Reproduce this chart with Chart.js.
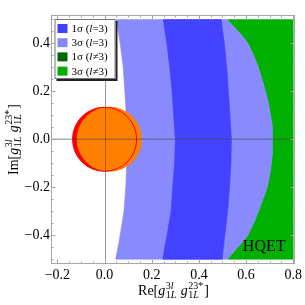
<!DOCTYPE html>
<html><head><meta charset="utf-8">
<script src="https://cdn.jsdelivr.net/npm/chart.js@4.4.1/dist/chart.umd.min.js"></script>
<style>html,body{margin:0;padding:0;background:#fff;}</style>
</head><body>
<canvas id="c" width="305" height="305"></canvas>
<script>
// ---------- data ----------
const yLevels      = [0.5, 0.45, 0.4, 0.3, 0.2, 0.1, 0.0, -0.1, -0.2, -0.3, -0.4, -0.45, -0.5];
const sigma3InnerX = [0.049, 0.058, 0.066, 0.079, 0.086, 0.092, 0.095, 0.093, 0.090, 0.082, 0.066, 0.057, 0.047];
const sigma1InnerX = [0.249, 0.256, 0.264, 0.276, 0.286, 0.293, 0.300, 0.297, 0.289, 0.282, 0.265, 0.255, 0.247];
const sigma1OuterX = [0.495, 0.501, 0.508, 0.518, 0.525, 0.532, 0.538, 0.536, 0.530, 0.522, 0.510, 0.504, 0.499];

const hqetEdgeY = [0.5, 0.475, 0.45, 0.425, 0.4, 0.35, 0.3, 0.25, 0.2, 0.15, 0.1, 0.05, 0.0,
                   -0.05, -0.1, -0.15, -0.2, -0.25, -0.3, -0.35, -0.4, -0.425, -0.45, -0.475, -0.5];
const hqetEdgeX = [0.519, 0.543, 0.566, 0.589, 0.608, 0.632, 0.652, 0.668, 0.682, 0.695, 0.704, 0.711, 0.714,
                   0.712, 0.708, 0.700, 0.690, 0.672, 0.653, 0.632, 0.608, 0.588, 0.565, 0.543, 0.521];
const hqetOuterX = 0.8;

const circleCenterX = [0.0, 0.02];   // red, orange
const circleCenterY = [0.0, 0.0];
const circleRadius  = [0.136, 0.138];

const xTicks = [-0.2, 0.0, 0.2, 0.4, 0.6, 0.8];
const yTicks = [-0.4, -0.2, 0.0, 0.2, 0.4];

const legendSigma  = ['1\u03c3', '3\u03c3', '1\u03c3', '3\u03c3'];
const legendRel    = ['=3)', '=3)', '\u22603)', '\u22603)'];
const legendColors = ['#3f3fff', '#8585ff', '#006600', '#00b000'];

const hqetText = 'HQET';

// ---------- styling ----------
const SERIF = '"Liberation Serif","Times New Roman",serif';
const COL = { dark: '#4343ff', light: '#8a8aff', green: '#00b000', red: '#ff0000', orange: '#ff8000' };

function fmtTick(v) { return (v < -1e-9 ? '\u2212' : '') + Math.abs(v).toFixed(1); }

function band(leftXs, leftYs, rightXs, rightYs) {
  const pts = [];
  for (let i = 0; i < leftYs.length; i++) pts.push({ x: leftXs[i], y: leftYs[i] });
  for (let i = rightYs.length - 1; i >= 0; i--) pts.push({ x: rightXs[i], y: rightYs[i] });
  return pts;
}
const outerY = [hqetEdgeY[0], hqetEdgeY[hqetEdgeY.length - 1]];
const outerX = [hqetOuterX, hqetOuterX];

function region(pts, color, order) {
  return { data: pts, fill: 'shape', backgroundColor: color, borderColor: color,
           borderWidth: 0.6, pointRadius: 0, tension: 0, order };
}
function radiusPx(chart, r) {
  const s = chart.scales.x;
  return Math.abs(s.getPixelForValue(r) - s.getPixelForValue(0));
}
function disk(i, fillCol, strokeCol, bw, order) {
  return { data: [{ x: circleCenterX[i], y: circleCenterY[i] }], showLine: false,
           pointRadius: ctx => radiusPx(ctx.chart, circleRadius[i]),
           pointHoverRadius: ctx => radiusPx(ctx.chart, circleRadius[i]),
           pointBackgroundColor: fillCol, pointBorderColor: strokeCol, pointBorderWidth: bw, order };
}

const datasets = [
  region(band(hqetEdgeX, hqetEdgeY, outerX, outerY), COL.green, 10),
  region(band(sigma3InnerX, yLevels, hqetEdgeX, hqetEdgeY), COL.light, 9),
  region(band(sigma1InnerX, yLevels, sigma1OuterX, yLevels), COL.dark, 8),
  disk(0, COL.red, 'rgba(0,0,0,0)', 0, 7),
  disk(1, COL.orange, 'rgba(0,0,0,0)', 0, 6),
  disk(0, 'rgba(0,0,0,0)', COL.red, 1, 5)
];

// ---------- rich text (sub/superscripts) ----------
const MAIN = 14, SCR = 10;
const titleScripts = [
  { sup: [{ t: '3' }, { t: 'l', i: true }], sub: [{ t: '1' }, { t: 'L', i: true }] },
  { sup: [{ t: '23*' }], sub: [{ t: '1' }, { t: 'L', i: true }] }
];
function titleTokens(head) {
  return [{ t: head }, { t: 'g', i: true }, titleScripts[0], { t: ' ' }, { t: 'g', i: true }, titleScripts[1], { t: ']' }];
}
function setFont(ctx, italic, size) { ctx.font = (italic ? 'italic ' : '') + size + 'px ' + SERIF; }
function runWidth(ctx, run, size) {
  let w = 0; run.forEach(p => { setFont(ctx, p.i, size); w += ctx.measureText(p.t).width; }); return w;
}
function drawRun(ctx, run, size, x, y) {
  run.forEach(p => { setFont(ctx, p.i, size); ctx.fillText(p.t, x, y); x += ctx.measureText(p.t).width; });
}
function drawRich(ctx, tokens, cx, baseline) {
  const widths = tokens.map(tk => tk.sup ? Math.max(runWidth(ctx, tk.sup, SCR), runWidth(ctx, tk.sub, SCR)) + 1.5
                                         : runWidth(ctx, [tk], MAIN));
  let x = cx - widths.reduce((a, b) => a + b, 0) / 2;
  tokens.forEach((tk, k) => {
    if (tk.sup) { drawRun(ctx, tk.sup, SCR, x + 0.5, baseline - 6); drawRun(ctx, tk.sub, SCR, x + 0.5, baseline + 2.5); }
    else drawRun(ctx, [tk], MAIN, x, baseline);
    x += widths[k];
  });
}

// ---------- decorations plugin ----------
const decor = {
  id: 'decor',
  afterDatasetsDraw(chart) {
    const { ctx, chartArea: a, scales: { x, y } } = chart;
    ctx.save();
    // zero axes
    const y0 = y.getPixelForValue(0), x0 = x.getPixelForValue(0);
    ctx.strokeStyle = 'rgba(70,70,70,0.45)'; ctx.lineWidth = 1.6;
    ctx.beginPath(); ctx.moveTo(a.left, y0); ctx.lineTo(a.right, y0); ctx.stroke();
    ctx.strokeStyle = 'rgba(70,70,70,0.55)'; ctx.lineWidth = 1;
    ctx.beginPath(); ctx.moveTo(Math.round(x0) + 0.5, a.top); ctx.lineTo(Math.round(x0) + 0.5, a.bottom); ctx.stroke();
    // frame
    const L = Math.round(a.left) - 0.5, R = Math.round(a.right) - 0.5, T = Math.round(a.top) + 0.5, B = Math.round(a.bottom) - 0.5;
    ctx.strokeStyle = '#a6a6a6'; ctx.lineWidth = 1;
    ctx.strokeRect(L, T, R - L, B - T);
    // inward ticks
    ctx.beginPath();
    for (let k = -4; k <= 16; k++) {
      const v = k * 0.05; if (v < x.min || v > x.max) continue;
      const px = Math.round(x.getPixelForValue(v)) + 0.5, len = (k % 4 === 0) ? 4 : 2;
      ctx.moveTo(px, B); ctx.lineTo(px, B - len); ctx.moveTo(px, T); ctx.lineTo(px, T + len);
    }
    for (let k = -10; k <= 10; k++) {
      const v = k * 0.05; if (v < y.min || v > y.max) continue;
      const py = Math.round(y.getPixelForValue(v)) + 0.5, len = (k % 4 === 0) ? 4 : 2;
      ctx.moveTo(L, py); ctx.lineTo(L + len, py); ctx.moveTo(R, py); ctx.lineTo(R - len, py);
    }
    ctx.stroke();

    // legend box
    const bx = a.left + 2.5, by = a.top + 4, bw = 61, bh = 60;
    ctx.fillStyle = '#222'; ctx.fillRect(bx + 2, by + 2, bw, bh);
    ctx.fillStyle = '#fff'; ctx.fillRect(bx, by, bw, bh);
    ctx.strokeStyle = '#777'; ctx.lineWidth = 1; ctx.strokeRect(bx + 0.5, by + 0.5, bw - 1, bh - 1);
    ctx.textBaseline = 'alphabetic'; ctx.textAlign = 'left';
    legendSigma.forEach((s, k) => {
      const ry = by + 9 + k * 14.2;
      ctx.fillStyle = legendColors[k]; ctx.fillRect(bx + 3, ry - 4, 10, 9);
      ctx.fillStyle = '#000';
      let tx = bx + 17; const base = ry + 4;
      setFont(ctx, false, 11); ctx.fillText(s + ' (', tx, base); tx += ctx.measureText(s + ' (').width;
      setFont(ctx, true, 11); ctx.fillText('l', tx, base); tx += ctx.measureText('l').width;
      setFont(ctx, false, 11); ctx.fillText(legendRel[k], tx, base);
    });

    // HQET label
    ctx.fillStyle = '#000'; setFont(ctx, false, 16); ctx.textAlign = 'center';
    ctx.fillText(hqetText, x.getPixelForValue(0.677), y.getPixelForValue(-0.465));
    ctx.textAlign = 'left';

    // axis titles
    const cx = (a.left + a.right) / 2, cy = (a.top + a.bottom) / 2;
    drawRich(ctx, titleTokens('Re['), cx, chart.height - 10);
    ctx.translate(18, cy); ctx.rotate(-Math.PI / 2);
    drawRich(ctx, titleTokens('Im['), 0, 0);
    ctx.restore();
  }
};

new Chart(document.getElementById('c'), {
  type: 'line',
  data: { datasets },
  options: {
    responsive: false, animation: false, events: [],
    layout: { padding: { left: 0, top: 15, right: 7, bottom: 0 } },
    plugins: { legend: { display: false }, tooltip: { enabled: false } },
    scales: {
      x: {
        type: 'linear', min: -0.223, max: 0.808,
        grid: { display: false, drawTicks: false }, border: { display: false },
        afterBuildTicks: s => { s.ticks = xTicks.map(v => ({ value: v })); },
        afterFit: s => { s.height = 41; },
        ticks: { autoSkip: false, maxRotation: 0, padding: 3, color: '#000',
                 font: { family: SERIF, size: 14 }, callback: v => fmtTick(v) }
      },
      y: {
        type: 'linear', min: -0.52, max: 0.518,
        grid: { display: false, drawTicks: false }, border: { display: false },
        afterBuildTicks: s => { s.ticks = yTicks.map(v => ({ value: v })); },
        afterFit: s => { s.width = 52; },
        ticks: { autoSkip: false, padding: 2, color: '#000',
                 font: { family: SERIF, size: 14 }, callback: v => fmtTick(v) }
      }
    }
  },
  plugins: [decor]
});
</script>
</body></html>
